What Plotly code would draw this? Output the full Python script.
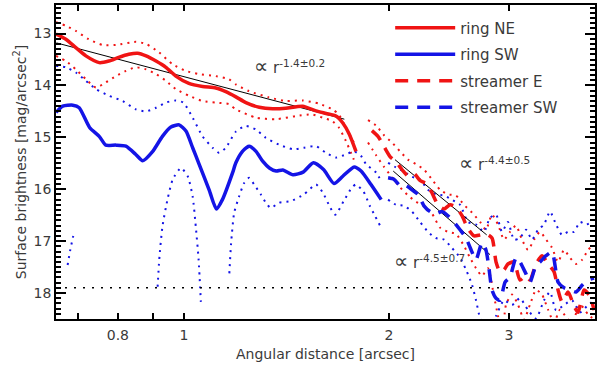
import numpy as np
import plotly.graph_objects as go

# ring NE (solid red) and its error envelope
ne_r = [0.649, 0.671, 0.694, 0.718, 0.751, 0.776, 0.802, 0.830, 0.855, 0.880, 0.910, 0.941,
        0.973, 1.017, 1.065, 1.114, 1.152, 1.192, 1.233, 1.290, 1.350, 1.411, 1.494, 1.563,
        1.617, 1.672, 1.710, 1.749, 1.789]
ne_mag = [13.01, 13.11, 13.27, 13.43, 13.56, 13.53, 13.46, 13.40, 13.38, 13.43, 13.53, 13.65,
          13.82, 13.96, 14.02, 14.05, 14.12, 14.22, 14.33, 14.42, 14.45, 14.44, 14.40, 14.49,
          14.54, 14.59, 14.72, 14.94, 15.27]
ne_hi_r = [0.649, 0.671, 0.694, 0.725, 0.760, 0.795, 0.850, 0.880, 0.919, 0.962, 1.007, 1.052,
           1.114, 1.164, 1.192, 1.246, 1.333, 1.411, 1.494, 1.578, 1.652, 1.688, 1.729, 1.776]
ne_hi_mag = [12.78, 12.85, 12.95, 13.11, 13.22, 13.22, 13.16, 13.20, 13.36, 13.59, 13.72, 13.78,
             13.82, 13.88, 13.98, 14.11, 14.23, 14.30, 14.29, 14.35, 14.46, 14.56, 14.81, 15.10]
ne_lo_r = [0.649, 0.671, 0.694, 0.718, 0.743, 0.768, 0.795, 0.822, 0.850, 0.880, 0.910, 0.941,
           0.973, 1.018, 1.065, 1.114, 1.164, 1.192, 1.276, 1.365, 1.460, 1.544, 1.597, 1.652,
           1.688, 1.729, 1.776]
ne_lo_mag = [13.43, 13.53, 13.69, 13.88, 14.04, 13.94, 13.82, 13.72, 13.65, 13.69, 13.78, 13.91,
             14.07, 14.20, 14.30, 14.33, 14.36, 14.46, 14.62, 14.65, 14.59, 14.56, 14.62, 14.69,
             14.81, 15.07, 15.43]

# ring SW (solid blue) and its error envelope
sw_r = [0.649, 0.664, 0.687, 0.702, 0.727, 0.751, 0.768, 0.795, 0.822, 0.850, 0.870, 0.900,
        0.930, 0.957, 0.984, 1.007, 1.030, 1.053, 1.089, 1.116, 1.139, 1.179, 1.192, 1.219,
        1.247, 1.276, 1.305, 1.335, 1.366, 1.397, 1.446, 1.496, 1.549, 1.603, 1.661, 1.711,
        1.778, 1.820, 1.882, 1.948]
sw_mag = [14.52, 14.40, 14.38, 14.43, 14.81, 14.98, 15.15, 15.15, 15.17, 15.33, 15.45, 15.27,
          14.98, 14.80, 14.76, 14.88, 15.20, 15.52, 16.01, 16.38, 16.20, 15.68, 15.49, 15.27,
          15.17, 15.27, 15.46, 15.59, 15.65, 15.63, 15.72, 15.67, 15.49, 15.62, 15.89, 15.75,
          15.57, 15.65, 15.91, 16.20]
sw_hi_r = [0.649, 0.671, 0.694, 0.718, 0.743, 0.777, 0.813, 0.850, 0.880, 0.910, 0.941, 0.973,
           0.998, 1.030, 1.065, 1.102, 1.127, 1.152, 1.192, 1.233, 1.276, 1.319, 1.379, 1.446,
           1.499, 1.563, 1.617, 1.672, 1.729, 1.778, 1.820, 1.852, 1.916, 1.948]
sw_hi_mag = [13.62, 13.65, 13.75, 13.91, 14.07, 14.20, 14.30, 14.46, 14.50, 14.43, 14.33, 14.29,
             14.33, 14.62, 14.98, 15.20, 15.30, 15.20, 14.89, 14.78, 14.85, 15.01, 15.14, 15.23,
             15.20, 15.17, 15.30, 15.39, 15.33, 15.27, 15.36, 15.52, 15.68, 15.85]
sw_lo_r = [0.675, 0.681, 0.688, None,
           0.915, 0.920, 0.930, 0.946, 0.963, 0.990, 1.013, 1.030, 1.041, 1.051, 1.059, None,
           1.166, 1.173, 1.185, 1.205, 1.226, 1.247, 1.268, 1.297, 1.319, 1.341, 1.379, 1.434,
           1.500, 1.563, 1.600, 1.641, 1.668, 1.716, 1.764, 1.788, 1.834, 1.876, 1.909, 1.944]
sw_lo_mag = [17.46, 17.17, 16.90, None,
             17.88, 17.36, 16.72, 16.20, 15.81, 15.59, 15.75, 16.14, 16.72, 17.36, 18.17, None,
             17.62, 17.04, 16.46, 16.14, 15.88, 15.78, 15.91, 16.10, 16.26, 16.36, 16.26, 16.23,
             16.10, 15.91, 16.07, 16.36, 16.49, 16.23, 15.97, 15.91, 16.04, 16.33, 16.52, 16.72]

# streamer E (dashed red)
se_r = [1.888, 1.927, 1.967, 2.007, 2.048, 2.090, 2.133, 2.177, 2.221, 2.267, 2.313, 2.360,
        2.409, 2.458, 2.508, 2.560, 2.612, 2.666, 2.721, 2.776, 2.833, 2.872, 2.911, 2.951,
        2.990, 3.052, 3.114, 3.178, 3.222, 3.288, 3.355, 3.424, 3.494, 3.542, 3.590, 3.664,
        3.738, 3.790, 3.868, 3.946, 4.000]
se_mag = [14.87, 14.98, 15.18, 15.37, 15.47, 15.62, 15.74, 15.70, 15.83, 15.89, 16.07, 16.30,
          16.38, 16.30, 16.34, 16.51, 16.76, 16.90, 16.88, 16.86, 16.94, 17.40, 17.59, 17.55,
          17.44, 17.40, 17.75, 17.67, 17.75, 17.44, 17.28, 17.44, 17.59, 17.94, 18.17, 17.98,
          18.25, 18.37, 17.94, 18.06, 18.33]
se_hi_r = [1.863, 1.914, 1.967, 2.021, 2.076, 2.133, 2.192, 2.251, 2.313, 2.377, 2.441, 2.508,
           2.577, 2.648, 2.721, 2.776, 2.833, 2.891, 2.951, 3.011, 3.073, 3.135, 3.200, 3.266,
           3.333, 3.401, 3.471, 3.542, 3.614, 3.688, 3.764, 3.842, 3.920, 4.000]
se_hi_mag = [14.67, 14.77, 14.96, 15.10, 15.27, 15.43, 15.52, 15.62, 15.81, 16.01, 16.10, 16.12,
             16.30, 16.45, 16.63, 16.78, 16.49, 16.68, 16.97, 16.82, 16.70, 16.97, 17.17, 16.97,
             16.82, 16.97, 17.13, 17.40, 17.17, 17.32, 17.44, 17.36, 17.17, 17.07]
se_lo_r = [1.863, 1.914, 1.967, 2.021, 2.076, 2.133, 2.192, 2.251, 2.313, 2.377, 2.441, 2.508,
           2.577, 2.630, 2.684, 2.739, 2.795, 2.853, 2.891, 2.931, 2.971, 3.031, 3.093, 3.157,
           3.222, 3.288, 3.355, 3.424, 3.494, 3.565, 3.639, 3.713, 3.815, 3.920, 4.000]
se_lo_mag = [15.10, 15.34, 15.57, 15.77, 15.96, 16.12, 16.24, 16.32, 16.47, 16.74, 16.82, 16.86,
             17.09, 17.32, 17.52, 17.67, 17.52, 18.07, 18.44, 18.82, 18.22, 18.03, 18.22, 18.51,
             18.22, 17.94, 18.03, 18.32, 18.57, 18.32, 18.46, 18.57, 18.22, 18.41, 18.51]

# streamer SW (dashed blue)
ss_r = [1.994, 2.035, 2.076, 2.118, 2.162, 2.206, 2.251, 2.298, 2.344, 2.393, 2.441, 2.491,
        2.543, 2.595, 2.648, 2.684, 2.739, 2.776, 2.804, 2.833, 2.872, 2.911, 2.961, 3.011,
        3.073, 3.114, 3.178, 3.222, 3.288, 3.333, 3.401, 3.471, 3.542, 3.614, 3.688, 3.764,
        3.842, 3.920, 4.000]
ss_mag = [15.78, 15.81, 15.93, 15.93, 16.01, 16.10, 16.32, 16.43, 16.47, 16.43, 16.51, 16.63,
          16.78, 16.94, 17.21, 17.36, 17.03, 17.17, 17.52, 17.94, 18.10, 18.14, 17.79, 17.69,
          17.32, 17.40, 17.63, 17.79, 17.46, 17.40, 17.28, 17.21, 17.79, 17.90, 17.94, 17.98,
          17.85, 17.75, 17.71]
ss_hi_r = [1.994, 2.048, 2.104, 2.162, 2.221, 2.282, 2.344, 2.409, 2.474, 2.543, 2.612, 2.684,
           2.757, 2.814, 2.872, 2.931, 2.990, 3.052, 3.114, 3.178, 3.244, 3.311, 3.378, 3.447,
           3.518, 3.590, 3.664, 3.738, 3.815, 3.894, 3.973]
ss_hi_mag = [15.49, 15.58, 15.66, 15.76, 15.81, 16.01, 16.10, 16.12, 16.20, 16.30, 16.63, 16.68,
             16.82, 16.55, 16.49, 16.82, 16.63, 16.97, 16.94, 16.78, 16.97, 16.78, 16.68, 16.43,
             16.68, 16.88, 16.82, 16.82, 16.63, 16.68, 16.63]
ss_lo_r = [1.994, 2.048, 2.104, 2.162, 2.221, 2.282, 2.344, 2.409, 2.474, 2.543, 2.595, 2.648,
           2.684, 2.721, 2.776, 2.872, 2.951, 3.031, 3.114, 3.200, 3.288, 3.378, 3.447, 3.518,
           3.614, 3.713, 3.815, 3.920, 4.000]
ss_lo_mag = [16.20, 16.30, 16.32, 16.43, 16.63, 16.82, 16.94, 16.97, 17.13, 17.32, 17.55, 17.84,
             18.14, 18.49, 18.78, 18.44, 18.14, 18.23, 18.10, 18.33, 18.49, 18.14, 17.98, 18.33,
             18.23, 18.14, 18.37, 18.23, 18.14]

# power-law fits (end points)
fit1_r, fit1_mag = [0.65, 1.72], [13.18, 14.65]
fit2_r, fit2_mag = [2.041, 2.783], [15.43, 16.88]
fit3_r, fit3_mag = [2.029, 2.814], [15.65, 17.26]
sky_mag = 17.9

RED = '#f01414'
BLUE = '#1414e6'
FONT = 'DejaVu Sans'
TXT = '#3a3a3a'
DOT = '2px,5px'

fig = go.Figure()

def add(r, m, color, dash, width, name=None):
    fig.add_trace(go.Scatter(
        x=r, y=m, mode='lines', name=name, showlegend=name is not None,
        legendgroup=name, connectgaps=False,
        line=dict(color=color, dash=dash, width=width, shape='spline', smoothing=0.6),
        hoverinfo='skip'))

add(ne_hi_r, ne_hi_mag, RED, DOT, 2)
add(ne_lo_r, ne_lo_mag, RED, DOT, 2)
add(sw_hi_r, sw_hi_mag, BLUE, DOT, 2)
add(sw_lo_r, sw_lo_mag, BLUE, DOT, 2)
add(se_hi_r, se_hi_mag, RED, DOT, 2)
add(se_lo_r, se_lo_mag, RED, DOT, 2)
add(ss_hi_r, ss_hi_mag, BLUE, DOT, 2)
add(ss_lo_r, ss_lo_mag, BLUE, DOT, 2)

for fr, fm in [(fit1_r, fit1_mag), (fit2_r, fit2_mag), (fit3_r, fit3_mag)]:
    fig.add_trace(go.Scatter(x=fr, y=fm, mode='lines', showlegend=False,
                             line=dict(color='black', width=1), hoverinfo='skip'))

add(ne_r, ne_mag, RED, 'solid', 3.5, 'ring NE')
add(sw_r, sw_mag, BLUE, 'solid', 3.5, 'ring SW')
add(se_r, se_mag, RED, '13px,9px', 3.5, 'streamer E')
add(ss_r, ss_mag, BLUE, '13px,9px', 3.5, 'streamer SW')

fig.add_hline(y=sky_mag, line=dict(color='black', dash='2px,7px', width=1.5))

ann_font = dict(family=FONT, size=15, color=TXT)
for r0, m0, txt in [(1.259, 13.62, '<span style="font-size:20px">∝</span> r<sup>-1.4±0.2</sup>'),
                    (2.517, 15.50, '<span style="font-size:20px">∝</span> r<sup>-4.4±0.5</sup>'),
                    (2.021, 17.38, '<span style="font-size:20px">∝</span> r<sup>-4.5±0.7</sup>')]:
    fig.add_annotation(x=np.log10(r0), y=m0, text=txt, showarrow=False,
                       xanchor='left', yanchor='middle', font=ann_font)

axis_common = dict(showline=True, linecolor='black', linewidth=1.5, mirror='ticks',
                   ticks='inside', tickcolor='black', showgrid=False, zeroline=False,
                   automargin=False,
                   tickfont=dict(family=FONT, size=14, color=TXT))

fig.update_xaxes(type='log', range=[np.log10(0.649), np.log10(4.013)],
                 tickvals=[0.7, 0.8, 0.9, 1, 2, 3], ticktext=['', '0.8', '', '1', '2', '3'],
                 ticklen=6, tickwidth=1.5, ticklabelstandoff=2,
                 title=dict(text='Angular distance [arcsec]', standoff=8,
                            font=dict(family=FONT, size=14, color=TXT)),
                 **axis_common)
fig.update_yaxes(range=[18.5, 12.45], tick0=13, dtick=1, ticklen=10, tickwidth=1.5,
                 minor=dict(dtick=0.1, ticks='inside', ticklen=5, tickcolor='black'),
                 title=dict(text='Surface brightness [mag/arcsec<sup>2</sup>]', standoff=4,
                            font=dict(family=FONT, size=14, color=TXT)),
                 **axis_common)

fig.update_layout(
    width=600, height=367,
    margin=dict(l=56, r=5, t=5, b=48),
    plot_bgcolor='white', paper_bgcolor='white',
    legend=dict(x=0.62, y=0.979, xanchor='left', yanchor='top', itemwidth=60,
                bgcolor='rgba(0,0,0,0)', tracegroupgap=4,
                font=dict(family=FONT, size=15, color=TXT)),
)

fig.write_html('out.html', config={'displayModeBar': False},
               post_script="document.body.style.margin='0';")
